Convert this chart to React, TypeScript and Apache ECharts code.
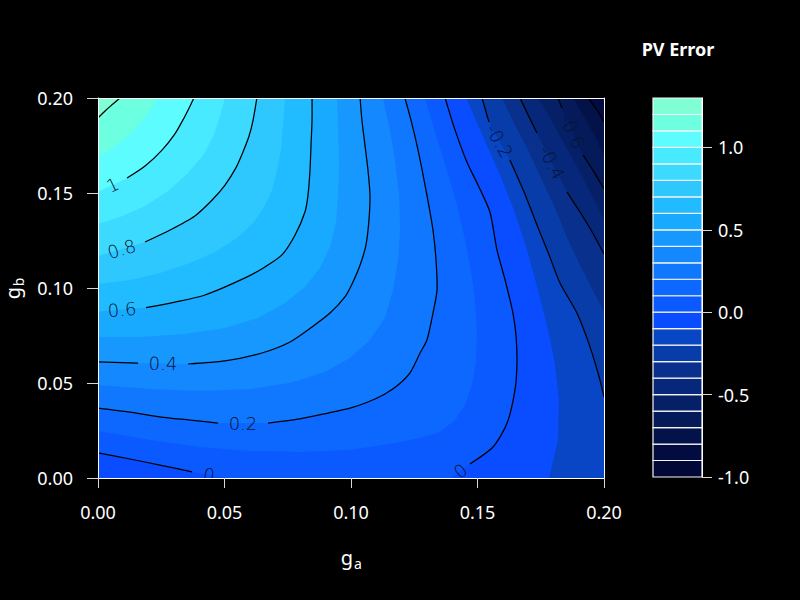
import React, { useEffect, useRef } from "react";
import * as echarts from "echarts";

// ---------- axes ----------
const gaRange = [0, 0.2];
const gbRange = [0, 0.2];
const axisStep = 0.05;
const barRange = [-1.0, 1.3];
const barTicks = [-1.0, -0.5, 0.0, 0.5, 1.0];

// ---------- colour bands (low edge of each band, step 0.1) ----------
const bandStep = 0.1;
const bandLows = [-1.0, -0.9, -0.8, -0.7, -0.6, -0.5, -0.4, -0.3, -0.2, -0.1, 0.0, 0.1, 0.2, 0.3, 0.4, 0.5, 0.6, 0.7, 0.8, 0.9, 1.0, 1.1, 1.2];
const bandColors = [
  "#010838", "#020c40", "#04124a", "#051a58", "#062068", "#07287a", "#08308c", "#083ca8",
  "#0846c6", "#0a4cff", "#0a5aff", "#0c68ff", "#1078ff", "#1488ff", "#1698ff", "#18aaff",
  "#20bcff", "#2ec8ff", "#3cdaff", "#48eaff", "#5cfcff", "#6cffe0", "#80ffd4",
];

// ---------- contour paths, [g_a, g_b] ----------
const c_12 = [[0, 0.1895], [0.0032, 0.1937], [0.0059, 0.1968], [0.0087, 0.2]];
const c_11 = [[0, 0.1689], [0.0047, 0.1726], [0.0095, 0.1774], [0.0138, 0.1826], [0.0178, 0.1884], [0.0209, 0.1942], [0.0237, 0.2]];
const c_10 = [[0, 0.1505], [0.0115, 0.1579], [0.0186, 0.1642], [0.0253, 0.1726], [0.0304, 0.1811], [0.034, 0.1895], [0.0364, 0.1958], [0.0379, 0.2]];
const c_09 = [[0, 0.1337], [0.0087, 0.1374], [0.0186, 0.1432], [0.0277, 0.1511], [0.0356, 0.1605], [0.0419, 0.1705], [0.0458, 0.1805], [0.0482, 0.1905], [0.0502, 0.2]];
const c_08 = [[0, 0.1168], [0.0186, 0.1242], [0.0285, 0.1305], [0.0383, 0.1379], [0.0451, 0.1463], [0.0502, 0.1542], [0.0545, 0.1632], [0.0573, 0.1716], [0.0597, 0.18], [0.0613, 0.1884], [0.0628, 0.2]];
const c_07 = [[0, 0.1021], [0.0126, 0.1042], [0.0245, 0.1079], [0.0364, 0.1132], [0.0462, 0.1189], [0.0549, 0.1263], [0.0613, 0.1342], [0.0656, 0.1426], [0.0688, 0.1516], [0.0708, 0.1621], [0.0723, 0.1726], [0.0731, 0.1858], [0.0739, 0.2]];
const c_06 = [[0, 0.0876], [0.019, 0.0897], [0.0304, 0.0926], [0.0423, 0.0963], [0.0581, 0.1053], [0.066, 0.1111], [0.0727, 0.1174], [0.0779, 0.1279], [0.0818, 0.14], [0.083, 0.1489], [0.0838, 0.1621], [0.0842, 0.1753], [0.0846, 0.1884], [0.0846, 0.2]];
const c_05 = [[0, 0.0742], [0.0166, 0.0742], [0.0344, 0.0758], [0.0502, 0.0789], [0.0632, 0.0842], [0.0739, 0.0921], [0.0818, 0.1005], [0.0877, 0.1105], [0.0917, 0.1216], [0.0941, 0.1347], [0.0949, 0.1489], [0.0953, 0.1647], [0.0949, 0.1832], [0.0945, 0.2]];
const c_04 = [[0, 0.0611], [0.0158, 0.0605], [0.0356, 0.06], [0.0502, 0.0616], [0.0648, 0.0658], [0.0759, 0.0716], [0.0846, 0.0795], [0.0917, 0.0868], [0.0976, 0.0953], [0.1004, 0.1021], [0.1036, 0.1121], [0.1059, 0.1226], [0.1071, 0.1358], [0.1075, 0.1489], [0.1067, 0.1621], [0.1055, 0.1753], [0.1043, 0.1884], [0.1036, 0.2]];
const c_03 = [[0, 0.0489], [0.0206, 0.0468], [0.0403, 0.0458], [0.0601, 0.0468], [0.0759, 0.05], [0.0897, 0.0558], [0.0996, 0.0632], [0.1075, 0.0726], [0.1134, 0.0842], [0.1166, 0.0989], [0.1186, 0.1147], [0.1194, 0.1305], [0.119, 0.1489], [0.1174, 0.1674], [0.1154, 0.1832], [0.1126, 0.2]];
const c_02 = [[0, 0.0368], [0.0126, 0.0347], [0.0249, 0.0321], [0.0364, 0.0305], [0.0474, 0.0289], [0.0672, 0.0289], [0.0798, 0.0311], [0.0909, 0.0342], [0.0996, 0.0368], [0.1067, 0.04], [0.1134, 0.0442], [0.1186, 0.0489], [0.1233, 0.0553], [0.1273, 0.0658], [0.13, 0.0726], [0.1324, 0.0868], [0.134, 0.0989], [0.1336, 0.1147], [0.1324, 0.1305], [0.13, 0.1489], [0.1265, 0.1726], [0.1237, 0.1884], [0.1213, 0.2]];
const c_01 = [[0, 0.0247], [0.0206, 0.02], [0.0403, 0.0163], [0.0601, 0.0142], [0.0798, 0.0137], [0.0996, 0.0147], [0.1154, 0.0179], [0.1273, 0.0211], [0.1352, 0.0242], [0.1411, 0.0305], [0.1451, 0.0384], [0.1478, 0.0489], [0.1494, 0.0611], [0.1498, 0.0779], [0.149, 0.0937], [0.1474, 0.1095], [0.1451, 0.1253], [0.1419, 0.1437], [0.1379, 0.1621], [0.1336, 0.1805], [0.1292, 0.2]];
const c_00a = [[0, 0.0132], [0.0126, 0.01], [0.0245, 0.0068], [0.0372, 0.0032], [0.0506, 0]];
const c_00b = [[0.1395, 0], [0.147, 0.0074], [0.1561, 0.0163], [0.1617, 0.0289], [0.1648, 0.0463], [0.1656, 0.0605], [0.1652, 0.0753], [0.164, 0.0868], [0.1609, 0.1042], [0.1577, 0.12], [0.1549, 0.14], [0.1502, 0.1542], [0.1458, 0.1663], [0.1411, 0.1832], [0.1372, 0.2]];
const c_m01 = [[0.1783, 0], [0.1818, 0.02], [0.1822, 0.0411], [0.1806, 0.0605], [0.1779, 0.0779], [0.1739, 0.0989], [0.1696, 0.12], [0.1644, 0.1411], [0.1581, 0.1621], [0.151, 0.1832], [0.1455, 0.2]];
const c_m02 = [[0.1518, 0.2], [0.1545, 0.1874], [0.1628, 0.1674], [0.1684, 0.1505], [0.1735, 0.1332], [0.1783, 0.1174], [0.1826, 0.1026], [0.1893, 0.0868], [0.1945, 0.0689], [0.1984, 0.0516], [0.2, 0.0426]];
const c_m03 = [[0.1597, 0.2], [0.1648, 0.1858], [0.17, 0.1726], [0.1755, 0.1568], [0.181, 0.1411], [0.1858, 0.1253], [0.1905, 0.1121], [0.1945, 0.1016], [0.1976, 0.0937], [0.2, 0.0874]];
const c_m04 = [[0.1668, 0.2], [0.17, 0.1911], [0.1735, 0.1816], [0.1854, 0.1505], [0.1905, 0.14], [0.1953, 0.1295], [0.2, 0.1179]];
const c_m05 = [[0.1739, 0.2], [0.1787, 0.1895], [0.1834, 0.1779], [0.1885, 0.1658], [0.1937, 0.1526], [0.1976, 0.1426], [0.2, 0.1358]];
const c_m06 = [[0.1818, 0.2], [0.1834, 0.1947], [0.1917, 0.17], [0.196, 0.1611], [0.2, 0.1521]];
const c_m07 = [[0.1877, 0.2], [0.1917, 0.1911], [0.196, 0.1811], [0.2, 0.17]];
const c_m08 = [[0.1937, 0.2], [0.1972, 0.1937], [0.2, 0.1874]];

// region on the high side of each level (painted in increasing order)
const fills = [
  { level: -0.8, pts: c_m08, close: ["BR", "BL", "TL"] },
  { level: -0.7, pts: c_m07, close: ["BR", "BL", "TL"] },
  { level: -0.6, pts: c_m06, close: ["BR", "BL", "TL"] },
  { level: -0.5, pts: c_m05, close: ["BR", "BL", "TL"] },
  { level: -0.4, pts: c_m04, close: ["BR", "BL", "TL"] },
  { level: -0.3, pts: c_m03, close: ["BR", "BL", "TL"] },
  { level: -0.2, pts: c_m02, close: ["BR", "BL", "TL"] },
  { level: -0.1, pts: c_m01, close: ["TL", "BL"] },
  { level: 0.0, pts: [...c_00a, ...c_00b], close: ["TL"] },
  { level: 0.1, pts: c_01, close: ["TL"] },
  { level: 0.2, pts: c_02, close: ["TL"] },
  { level: 0.3, pts: c_03, close: ["TL"] },
  { level: 0.4, pts: c_04, close: ["TL"] },
  { level: 0.5, pts: c_05, close: ["TL"] },
  { level: 0.6, pts: c_06, close: ["TL"] },
  { level: 0.7, pts: c_07, close: ["TL"] },
  { level: 0.8, pts: c_08, close: ["TL"] },
  { level: 0.9, pts: c_09, close: ["TL"] },
  { level: 1.0, pts: c_10, close: ["TL"] },
  { level: 1.1, pts: c_11, close: ["TL"] },
  { level: 1.2, pts: c_12, close: ["TL"] },
];

// drawn contour lines; gap = index of the segment replaced by the label (-1: none)
const lines = [
  { level: 1.2, branches: [{ pts: c_12, gap: -1 }] },
  { level: 1.0, branches: [{ pts: c_10, gap: 0 }] },
  { level: 0.8, branches: [{ pts: c_08, gap: 0 }] },
  { level: 0.6, branches: [{ pts: c_06, gap: 0 }] },
  { level: 0.4, branches: [{ pts: c_04, gap: 1 }] },
  { level: 0.2, branches: [{ pts: c_02, gap: 4 }] },
  { level: 0.0, branches: [{ pts: c_00a, gap: 3 }, { pts: c_00b, gap: 0 }] },
  { level: -0.2, branches: [{ pts: c_m02, gap: 1 }] },
  { level: -0.4, branches: [{ pts: c_m04, gap: 2 }] },
  { level: -0.6, branches: [{ pts: c_m06, gap: 1 }] },
  { level: -0.8, branches: [{ pts: c_m08, gap: -1 }] },
];

const colorOf = (lv: number) => bandColors[bandLows.findIndex((b) => Math.abs(b - lv) < 1e-9)];
const corner: Record<string, number[]> = {
  TL: [gaRange[0], gbRange[1]],
  BL: [gaRange[0], gbRange[0]],
  BR: [gaRange[1], gbRange[0]],
};
const fmtLevel = (lv: number) => String(Math.round(lv * 10) / 10);
const FONT = "'Noto Sans', 'Open Sans', sans-serif";

function buildOption(): any {
  const fillSeries = {
    type: "custom",
    xAxisIndex: 0,
    yAxisIndex: 0,
    clip: true,
    silent: true,
    z: 2,
    data: fills.map(() => [0, 0]),
    renderItem: (params: any, api: any) => {
      const f = fills[params.dataIndex];
      const pts = f.pts.concat(f.close.map((k) => corner[k]));
      return {
        type: "polygon",
        z2: params.dataIndex,
        shape: { points: pts.map((p) => api.coord(p)) },
        style: { fill: colorOf(f.level), stroke: null },
      };
    },
  };

  const lineSeries = {
    type: "custom",
    xAxisIndex: 0,
    yAxisIndex: 0,
    clip: true,
    silent: true,
    z: 3,
    data: lines.map(() => [0, 0]),
    renderItem: (params: any, api: any) => {
      const L = lines[params.dataIndex];
      const children: any[] = [];
      L.branches.forEach((b) => {
        const px = b.pts.map((p) => api.coord(p));
        const parts = b.gap < 0 ? [px] : [px.slice(0, b.gap + 1), px.slice(b.gap + 1)];
        parts
          .filter((s) => s.length > 1)
          .forEach((s) =>
            children.push({
              type: "polyline",
              shape: { points: s, smooth: 0.25 },
              style: { stroke: "#000", lineWidth: 1.25, fill: "none" },
            })
          );
        if (b.gap >= 0) {
          const a = px[b.gap];
          const c = px[b.gap + 1];
          let ang = Math.atan2(c[1] - a[1], c[0] - a[0]);
          if (ang > Math.PI / 2) ang -= Math.PI;
          if (ang < -Math.PI / 2) ang += Math.PI;
          children.push({
            type: "text",
            x: (a[0] + c[0]) / 2,
            y: (a[1] + c[1]) / 2,
            rotation: -ang,
            style: {
              text: fmtLevel(L.level),
              fill: "#071230",
              fontSize: 18,
              fontFamily: "'DejaVu Sans', sans-serif",
              fontWeight: 200,
              align: "center",
              verticalAlign: "middle",
            },
          });
        }
      });
      return { type: "group", children };
    },
  };

  const barSeries = {
    type: "custom",
    xAxisIndex: 2,
    yAxisIndex: 2,
    silent: true,
    data: bandLows.map((lo) => [0.5, lo]),
    renderItem: (params: any, api: any) => {
      const lo = bandLows[params.dataIndex];
      const a = api.coord([0, lo]);
      const b = api.coord([1, lo + bandStep]);
      return {
        type: "rect",
        shape: { x: a[0], y: b[1], width: b[0] - a[0], height: a[1] - b[1] },
        style: { fill: bandColors[params.dataIndex], stroke: "#f4f4f4", lineWidth: 1.2 },
      };
    },
  };

  const frameAxis = {
    axisLine: { show: true, onZero: false, lineStyle: { color: "#fff", width: 1 } },
    axisTick: { show: false },
    axisLabel: { show: false },
    splitLine: { show: false },
    z: 10,
  };

  return {
    animation: false,
    backgroundColor: "#000",
    grid: [
      { left: 98, top: 98, width: 506, height: 380, show: true, backgroundColor: bandColors[1], borderWidth: 0, outerBoundsMode: "none" },
      { left: 653, top: 98, width: 49, height: 379, outerBoundsMode: "none" },
    ],
    xAxis: [
      {
        gridIndex: 0, type: "value", min: gaRange[0], max: gaRange[1], interval: axisStep, position: "bottom", z: 10,
        axisLine: { show: true, onZero: false, lineStyle: { color: "#fff", width: 1 } },
        axisTick: { show: true, length: 10, lineStyle: { color: "#d8d8d8", width: 1 } },
        axisLabel: { color: "#fff", fontSize: 18, fontFamily: FONT, margin: 25, formatter: (v: number) => v.toFixed(2) },
        splitLine: { show: false },
      },
      { gridIndex: 0, type: "value", min: gaRange[0], max: gaRange[1], position: "top", ...frameAxis },
      { gridIndex: 1, type: "value", min: 0, max: 1, show: false },
    ],
    yAxis: [
      {
        gridIndex: 0, type: "value", min: gbRange[0], max: gbRange[1], interval: axisStep, position: "left", z: 10,
        axisLine: { show: true, onZero: false, lineStyle: { color: "#fff", width: 1 } },
        axisTick: { show: true, length: 11, lineStyle: { color: "#d8d8d8", width: 1 } },
        axisLabel: { color: "#fff", fontSize: 18, fontFamily: FONT, margin: 25, formatter: (v: number) => v.toFixed(2) },
        splitLine: { show: false },
      },
      { gridIndex: 0, type: "value", min: gbRange[0], max: gbRange[1], position: "right", ...frameAxis },
      {
        gridIndex: 1, type: "value", min: barRange[0], max: barRange[1], interval: 0.5, position: "right", z: 10,
        axisLine: { show: true, onZero: false, lineStyle: { color: "#fff", width: 1 } },
        axisTick: { show: true, length: 10, customValues: barTicks, lineStyle: { color: "#d8d8d8", width: 1 } },
        axisLabel: {
          color: "#fff", fontSize: 18, fontFamily: FONT, margin: 16, customValues: barTicks,
          formatter: (v: number) => (Math.abs(v * 2 - Math.round(v * 2)) < 1e-6 ? v.toFixed(1) : ""),
        },
        splitLine: { show: false },
      },
    ],
    graphic: [
      {
        type: "text", x: 678, y: 49, z: 20,
        style: { text: "PV Error", fill: "#fff", fontSize: 18, fontWeight: "bold", fontFamily: FONT, align: "center", verticalAlign: "middle" },
      },
      {
        type: "group", x: 352, y: 557, z: 20,
        children: [
          { type: "text", x: -5, y: 0, style: { text: "g", fill: "#fff", fontSize: 20, fontFamily: FONT, align: "center", verticalAlign: "middle" } },
          { type: "text", x: 6, y: 6, style: { text: "a", fill: "#fff", fontSize: 14, fontFamily: FONT, align: "center", verticalAlign: "middle" } },
        ],
      },
      {
        type: "group", x: 12, y: 288, rotation: Math.PI / 2, z: 20,
        children: [
          { type: "text", x: -5, y: 0, style: { text: "g", fill: "#fff", fontSize: 20, fontFamily: FONT, align: "center", verticalAlign: "middle" } },
          { type: "text", x: 6, y: 6, style: { text: "b", fill: "#fff", fontSize: 14, fontFamily: FONT, align: "center", verticalAlign: "middle" } },
        ],
      },
    ],
    series: [fillSeries, lineSeries, barSeries],
  };
}

export default function App() {
  const ref = useRef<HTMLDivElement>(null);
  useEffect(() => {
    const chart = echarts.init(ref.current!, null, { renderer: "svg" });
    chart.setOption(buildOption());
    return () => chart.dispose();
  }, []);
  return (
    <div
      ref={ref}
      style={{ position: "absolute", left: 0, top: 0, width: 800, height: 600, background: "#000" }}
    />
  );
}
